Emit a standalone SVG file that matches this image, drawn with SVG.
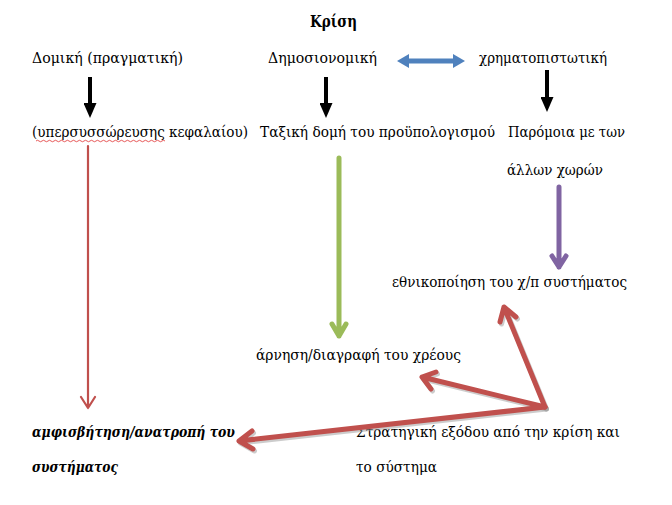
<svg xmlns="http://www.w3.org/2000/svg" width="672" height="505" viewBox="0 0 672 505">
<style>
text{font-family:"DejaVu Serif","Liberation Serif","Times New Roman",serif;font-size:15px;fill:#000}
.title{font-weight:bold;font-size:16.5px}
.bi{font-weight:bold;font-style:italic}
.blk{stroke:#000;stroke-width:4;fill:none}
.red{stroke:#C0504D;fill:none;stroke-linecap:round;stroke-linejoin:round}
.shadow{stroke:#9a9a9a;stroke-opacity:0.5;fill:none;stroke-linecap:round;stroke-linejoin:round}
</style>
<defs>
<marker id="tri" markerUnits="userSpaceOnUse" viewBox="0 0 15 13" refX="2" refY="6.5" markerWidth="15" markerHeight="13" orient="auto">
<path d="M0,0 L15,6.5 L0,13 z" fill="#000"/>
</marker>
<marker id="triBlue" markerUnits="userSpaceOnUse" viewBox="0 0 12 14" refX="2" refY="7" markerWidth="12" markerHeight="14" orient="auto-start-reverse">
<path d="M0,0 L12,7 L0,14 z" fill="#4F81BD"/>
</marker>
</defs>

<g id="title"><text class="title" x="310" y="27" textLength="47" lengthAdjust="spacingAndGlyphs">Κρίση</text></g>

<g id="n-domiki"><text x="32" y="63" textLength="151" lengthAdjust="spacingAndGlyphs">Δομική (πραγματική)</text></g>
<g id="n-dimosionomiki"><text x="268" y="63" textLength="109" lengthAdjust="spacingAndGlyphs">Δημοσιονομική</text></g>
<g id="n-xrimatopistotiki"><text x="479" y="63" textLength="128" lengthAdjust="spacingAndGlyphs">χρηματοπιστωτική</text></g>

<g id="n-yperssorefsi">
<text x="32" y="137" textLength="216" lengthAdjust="spacingAndGlyphs">(υπερσυσσώρευσης  κεφαλαίου)</text>
<path d="M36,141 q1.5,-1.5 3,0 t3,0 t3,0 t3,0 t3,0 t3,0 t3,0 t3,0 t3,0 t3,0 t3,0 t3,0 t3,0 t3,0 t3,0 t3,0 t3,0 t3,0 t3,0 t3,0 t3,0 t3,0 t3,0 t3,0 t3,0 t3,0 t3,0 t3,0 t3,0 t3,0 t3,0 t3,0 t3,0 t3,0 t3,0 t3,0 t3,0 t3,0 t3,0 t3,0 t3,0 t3,0 t3,0" stroke="#E03030" stroke-width="0.8" fill="none"/>
</g>
<g id="n-taxiki"><text x="260" y="137" textLength="235" lengthAdjust="spacingAndGlyphs">Ταξική δομή του προϋπολογισμού</text></g>
<g id="n-paromoia"><text x="508" y="137" textLength="117" lengthAdjust="spacingAndGlyphs">Παρόμοια με των</text><text x="507" y="175" textLength="96" lengthAdjust="spacingAndGlyphs">άλλων χωρών</text></g>

<g id="n-ethnikopoiisi"><text x="392" y="287" textLength="235" lengthAdjust="spacingAndGlyphs">εθνικοποίηση του χ/π συστήματος</text></g>
<g id="n-arnisi"><text x="256" y="360" textLength="205" lengthAdjust="spacingAndGlyphs">άρνηση/διαγραφή του χρέους</text></g>
<g id="n-amfisvitisi"><text class="bi" x="32" y="437" textLength="203" lengthAdjust="spacingAndGlyphs">αμφισβήτηση/ανατροπή  του</text><text class="bi" x="32" y="472" textLength="86" lengthAdjust="spacingAndGlyphs">συστήματος</text></g>
<g id="n-stratigiki"><text x="356" y="437" textLength="264" lengthAdjust="spacingAndGlyphs">Στρατηγική εξόδου από την κρίση και</text><text x="356" y="472" textLength="81" lengthAdjust="spacingAndGlyphs">το σύστημα</text></g>

<g id="connectors">
<line class="blk" x1="90" y1="77" x2="90" y2="105" marker-end="url(#tri)"/>
<line class="blk" x1="326" y1="77" x2="326" y2="105" marker-end="url(#tri)"/>
<line class="blk" x1="547" y1="70" x2="547" y2="99" marker-end="url(#tri)"/>
<line x1="407" y1="61" x2="455" y2="61" stroke="#4F81BD" stroke-width="5" marker-start="url(#triBlue)" marker-end="url(#triBlue)"/>
<path class="red" d="M88,146 V408 M81,397 L88,408 L95,397" stroke-width="2.2"/>
<path d="M339,158 V336 M332,324 L339,336 L346,324" stroke="#9BBB59" stroke-width="5" fill="none" stroke-linecap="round" stroke-linejoin="round"/>
<path d="M559,187 V267 M552,256 L559,267 L566,256" stroke="#8064A2" stroke-width="5" fill="none" stroke-linecap="round" stroke-linejoin="round"/>
<g transform="translate(1.5,2)">
<path class="shadow" stroke-width="5" d="M545,407 L504,307 M500,322 L504,307 L516,317"/>
<path class="shadow" stroke-width="5" d="M545,407 L422,377 M431,389 L422,377 L436,372"/>
<path class="shadow" stroke-width="5" d="M545,407 L239,441 M252,431 L239,441 L253,449"/>
</g>
<path class="red" stroke-width="5" d="M545,407 L504,307 M500,322 L504,307 L516,317"/>
<path class="red" stroke-width="5" d="M545,407 L422,377 M431,389 L422,377 L436,372"/>
<path class="red" stroke-width="5" d="M545,407 L239,441 M252,431 L239,441 L253,449"/>
</g>
</svg>
